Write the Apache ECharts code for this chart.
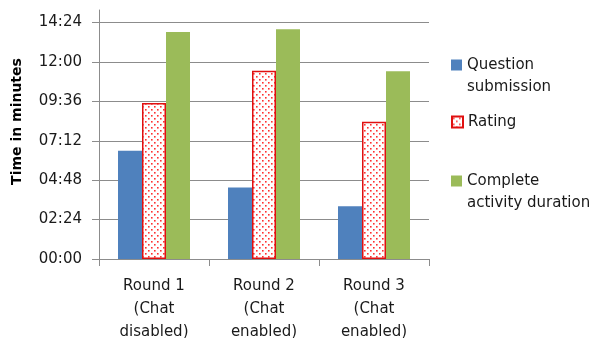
<!DOCTYPE html>
<html>
<head>
<meta charset="utf-8">
<script src="https://cdn.jsdelivr.net/npm/echarts@6/dist/echarts.min.js"></script>
<style>
  html, body { margin: 0; padding: 0; background: #fff; }
  #chart { width: 604px; height: 338px; }
</style>
</head>
<body>
<div id="chart"></div>
<script>
// Durations per round, in seconds
const categories = ['Round 1\n(Chat\ndisabled)', 'Round 2\n(Chat\nenabled)', 'Round 3\n(Chat\nenabled)'];
const seriesNames = ['Question submission', 'Rating', 'Complete activity duration'];
const legendLabels = ['Question\nsubmission', 'Rating', 'Complete\nactivity duration'];
const questionSubmission = [396, 261, 193];
const rating = [570, 688, 502];
const completeDuration = [830, 840, 686];
const yTickValues = [0, 144, 288, 432, 576, 720, 864];
const yAxisTitle = 'Time in minutes';

const FONT = 'DejaVu Sans';
const GRID_COLOR = '#8c8c8c';

function pad(n) { return (n < 10 ? '0' : '') + n; }
function toClock(v) {
  const s = Math.round(v);
  return pad(Math.floor(s / 60)) + ':' + pad(s % 60);
}

// Dotted fill used for the "Rating" bars
function dotPattern() {
  const c = document.createElement('canvas');
  c.width = 6; c.height = 6;
  const g = c.getContext('2d');
  g.fillStyle = '#fff';
  g.fillRect(0, 0, 6, 6);
  g.fillStyle = '#ff3030';
  g.fillRect(1, 1, 1.6, 1.6);
  g.fillRect(4, 4, 1.6, 1.6);
  return { image: c, repeat: 'repeat' };
}
const ratingFill = dotPattern();

const chart = echarts.init(document.getElementById('chart'), null, { renderer: 'canvas' });

// One legend block per series; a leading blank line keeps the icon level
// with the first line of a two-line label.
function legendAt(name, label, centerY) {
  const lines = label.split('\n').length;
  const text = lines > 1 ? ' \n' + label : label;
  const half = lines > 1 ? 33 : 11;
  return {
    orient: 'vertical',
    left: 451,
    top: centerY - half,
    padding: 0,
    itemWidth: 11,
    itemHeight: 11,
    icon: 'rect',
    selectedMode: false,
    data: [{ name: name }],
    formatter: function () { return text; },
    textStyle: {
      fontFamily: FONT,
      fontSize: 15,
      color: '#1a1a1a',
      lineHeight: 22
    }
  };
}

chart.setOption({
  animation: false,
  backgroundColor: '#fff',
  grid: { left: 99, right: 175, top: 10, bottom: 79, containLabel: false, outerBoundsMode: 'none' },
  legend: [
    legendAt(seriesNames[0], legendLabels[0], 65),
    legendAt(seriesNames[1], legendLabels[1], 122),
    legendAt(seriesNames[2], legendLabels[2], 181)
  ],
  xAxis: {
    type: 'category',
    data: categories,
    axisLine: { lineStyle: { color: GRID_COLOR, width: 1 } },
    axisTick: { show: true, length: 7, lineStyle: { color: GRID_COLOR } },
    axisLabel: {
      fontFamily: FONT,
      fontSize: 15,
      color: '#1a1a1a',
      lineHeight: 23,
      margin: 16,
      interval: 0
    }
  },
  yAxis: {
    type: 'value',
    min: 0,
    max: 910,
    interval: 144,
    name: yAxisTitle,
    nameLocation: 'middle',
    nameGap: 75,
    nameRotate: 90,
    nameTextStyle: {
      fontFamily: FONT,
      fontSize: 14,
      fontWeight: 'bold',
      color: '#000',
      padding: [0, 0, 0, 26]
    },
    axisLine: { show: true, lineStyle: { color: GRID_COLOR, width: 1 } },
    axisTick: { show: true, length: 7, customValues: yTickValues, lineStyle: { color: GRID_COLOR } },
    axisLabel: {
      fontFamily: FONT,
      fontSize: 15,
      color: '#1a1a1a',
      margin: 17,
      customValues: yTickValues,
      formatter: toClock
    },
    splitLine: { show: true, lineStyle: { color: GRID_COLOR, width: 1 } }
  },
  series: [
    {
      name: seriesNames[0],
      type: 'bar',
      data: questionSubmission,
      barWidth: 24,
      barGap: '0%',
      itemStyle: { color: '#4f81bd' }
    },
    {
      name: seriesNames[1],
      type: 'bar',
      data: rating,
      barWidth: 24,
      barGap: '0%',
      itemStyle: { color: ratingFill, borderColor: '#e01010', borderWidth: 1.5 }
    },
    {
      name: seriesNames[2],
      type: 'bar',
      data: completeDuration,
      barWidth: 24,
      barGap: '0%',
      itemStyle: { color: '#9bbb59' }
    }
  ]
});
</script>
</body>
</html>
